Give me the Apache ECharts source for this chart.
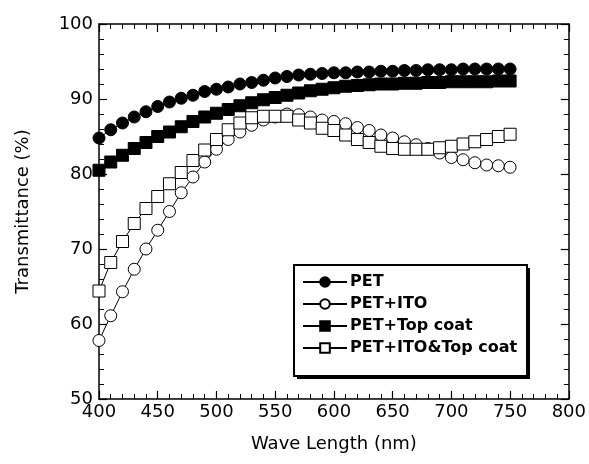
<!DOCTYPE html>
<html>
<head>
<meta charset="utf-8">
<title>Transmittance</title>
<script src="https://cdn.jsdelivr.net/npm/echarts@6/dist/echarts.min.js"></script>
<style>
  html, body { margin: 0; padding: 0; background: #fff; }
  #box { width: 589px; height: 464px; }
</style>
</head>
<body>
<div id="box"></div>
<script>
// wavelength, 400..750 nm every 10 nm
var waves = [400,410,420,430,440,450,460,470,480,490,500,510,520,530,540,550,560,570,
             580,590,600,610,620,630,640,650,660,670,680,690,700,710,720,730,740,750];

var pet = [84.8,85.9,86.8,87.6,88.3,89.0,89.6,90.1,90.5,91.0,91.3,91.6,92.0,92.2,92.5,92.8,93.0,93.2,
           93.3,93.4,93.5,93.5,93.6,93.6,93.7,93.7,93.8,93.8,93.9,93.9,93.9,94.0,94.0,94.0,94.0,94.0];
var petIto = [57.8,61.1,64.3,67.3,70.0,72.5,75.0,77.5,79.6,81.6,83.3,84.6,85.6,86.5,87.2,87.6,88.0,87.9,
              87.6,87.2,87.0,86.7,86.2,85.8,85.2,84.8,84.3,83.9,83.4,82.8,82.2,81.9,81.5,81.2,81.1,80.9];
var petTop = [80.5,81.6,82.5,83.4,84.2,85.0,85.6,86.3,87.0,87.6,88.1,88.6,89.1,89.5,89.9,90.2,90.5,90.8,
              91.1,91.3,91.5,91.7,91.8,91.9,92.0,92.0,92.1,92.1,92.2,92.2,92.3,92.3,92.3,92.3,92.4,92.4];
var petItoTop = [64.4,68.2,71.0,73.4,75.4,77.0,78.7,80.2,81.8,83.2,84.6,85.9,86.8,87.5,87.7,87.7,87.7,87.2,
                 86.8,86.1,85.8,85.2,84.6,84.2,83.7,83.4,83.3,83.3,83.3,83.5,83.7,84.0,84.3,84.6,85.0,85.3];

var xTicks = { min: 400, max: 800, interval: 50 };
var yTicks = { min: 50, max: 100, interval: 10 };

function pairs(vals) {
    return waves.map(function (w, i) { return [w, vals[i]]; });
}

var font = 'DejaVu Sans';

function makeAxis(cfg, pos, show) {
    return {
        type: 'value',
        position: pos,
        min: cfg.min, max: cfg.max, interval: cfg.interval,
        axisLine: { show: true, onZero: false, lineStyle: { color: '#000', width: 1.5 } },
        axisTick: { show: true, inside: true, length: 8, lineStyle: { color: '#000', width: 1.2 } },
        minorTick: { show: true, splitNumber: 5, length: 5, lineStyle: { color: '#000', width: 1 } },
        splitLine: { show: false },
        axisLabel: { show: show, color: '#000', fontFamily: font, fontSize: 18, margin: 4 }
    };
}

function mkSeries(name, vals, symbol, filled) {
    return {
        name: name,
        type: 'line',
        data: pairs(vals),
        symbol: symbol,
        symbolSize: 12,
        showAllSymbol: true,
        lineStyle: { color: '#000', width: 1 },
        itemStyle: { color: filled ? '#000' : '#fff', borderColor: '#000', borderWidth: 1 },
        emphasis: { disabled: true },
        animation: false
    };
}

var myChart = echarts.init(document.getElementById('box'));

var xBottom = makeAxis(xTicks, 'bottom', true);
xBottom.name = 'Wave Length (nm)';
xBottom.nameLocation = 'middle';
xBottom.nameGap = 36;
xBottom.nameTextStyle = { color: '#000', fontFamily: font, fontSize: 18 };
var xTop = makeAxis(xTicks, 'top', false);

var yLeft = makeAxis(yTicks, 'left', true);
yLeft.name = 'Transmittance (%)';
yLeft.nameLocation = 'middle';
yLeft.nameGap = 67;
yLeft.nameTextStyle = { color: '#000', fontFamily: font, fontSize: 18 };
yLeft.axisLabel.margin = 6;
var yRight = makeAxis(yTicks, 'right', false);

var option = {
    backgroundColor: '#fff',
    grid: { left: 99, right: 20, top: 24, bottom: 65 },
    // legend frame: shadow block + bordered box
    graphic: [
        { type: 'rect', z: 90, shape: { x: 297, y: 268, width: 233, height: 111 },
          style: { fill: '#000' } },
        { type: 'rect', z: 91, shape: { x: 294, y: 265, width: 233, height: 111 },
          style: { fill: '#fff', stroke: '#000', lineWidth: 2 } }
    ],
    legend: {
        orient: 'vertical',
        left: 302,
        top: 274,
        z: 100,
        itemWidth: 44,
        itemHeight: 12,
        itemGap: 6,
        padding: 0,
        textStyle: { color: '#000', fontFamily: font, fontSize: 16, fontWeight: 'bold', padding: [0, 0, 0, -2] },
        data: ['PET', 'PET+ITO', 'PET+Top coat', 'PET+ITO&Top coat']
    },
    xAxis: [xBottom, xTop],
    yAxis: [yLeft, yRight],
    series: [
        mkSeries('PET+ITO', petIto, 'circle', false),
        mkSeries('PET+ITO&Top coat', petItoTop, 'rect', false),
        mkSeries('PET+Top coat', petTop, 'rect', true),
        mkSeries('PET', pet, 'circle', true)
    ],
    animation: false
};

myChart.setOption(option);
</script>
</body>
</html>
